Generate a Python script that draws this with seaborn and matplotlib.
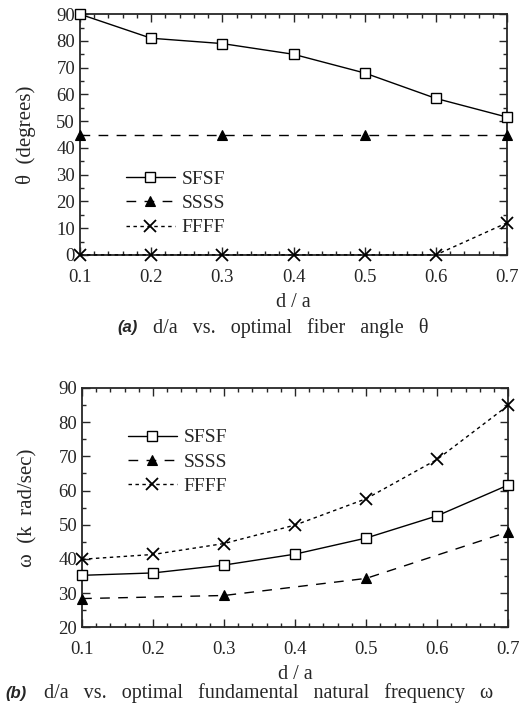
import pandas as pd
import seaborn as sns
import matplotlib.pyplot as plt
from matplotlib.ticker import MultipleLocator

# d/a values
da = [0.1, 0.2, 0.3, 0.4, 0.5, 0.6, 0.7]
da_ssss = [0.1, 0.3, 0.5, 0.7]

# (a) optimal fiber angle theta (degrees)
theta_sfsf = [90, 81, 79, 75, 68, 58.5, 51.5]
theta_ssss = [45, 45, 45, 45]
theta_ffff = [0, 0, 0, 0, 0, 0, 12]

# (b) optimal fundamental natural frequency omega (k rad/sec)
omega_sfsf = [35.2, 35.9, 38.2, 41.4, 46.1, 52.6, 61.6]
omega_ssss = [28.4, 29.3, 34.3, 47.9]
omega_ffff = [39.9, 41.3, 44.5, 49.9, 57.6, 69.1, 84.9]

series_names = ["SFSF", "SSSS", "FFFF"]

sns.set_style("ticks")
plt.rcParams["font.family"] = ["Liberation Serif", "DejaVu Serif"]

fig = plt.figure(figsize=(5.26, 7.08), dpi=100)
ax1 = fig.add_axes([0.152, 0.640, 0.812, 0.340])
ax2 = fig.add_axes([0.156, 0.114, 0.810, 0.338])

stil = {
    "SFSF": dict(linestyle="-", marker="s", markerfacecolor="white", markersize=7.5, markeredgewidth=1.0),
    "SSSS": dict(linestyle=(0, (7, 6)), marker="^", markerfacecolor="black", markersize=7, markeredgewidth=0.8),
    "FFFF": dict(linestyle=(0, (2.5, 2.5)), marker="x", markersize=8, markeredgewidth=1.3),
}


def ciz(ax, veriler, ylim, ylabel):
    for ad, (x, y) in zip(series_names, veriler):
        df = pd.DataFrame({"x": x, "y": y})
        sns.lineplot(data=df, x="x", y="y", ax=ax, color="black", linewidth=1.0,
                     markeredgecolor="black", label=ad, clip_on=False, zorder=3, **stil[ad])
    ax.set_xlim(0.1, 0.7)
    ax.set_ylim(*ylim)
    ax.xaxis.set_major_locator(MultipleLocator(0.1))
    ax.xaxis.set_minor_locator(MultipleLocator(0.02))
    ax.yaxis.set_major_locator(MultipleLocator(10))
    ax.yaxis.set_minor_locator(MultipleLocator(5))
    ax.tick_params(which="both", direction="in", top=True, right=True, labelsize=13.5, width=1.0)
    ax.tick_params(which="major", length=6)
    ax.tick_params(which="minor", length=3)
    ax.tick_params(axis="x", pad=10)
    for s in ax.spines.values():
        s.set_linewidth(1.3)
    ax.set_xlabel("d / a", fontsize=14.5, labelpad=5)
    ax.set_ylabel(ylabel, fontsize=15, labelpad=15)
    ax.set_xticklabels([f"{v:.1f}" for v in ax.get_xticks()])


ciz(ax1, [(da, theta_sfsf), (da_ssss, theta_ssss), (da, theta_ffff)], (0, 90), "θ  (degrees)")
ciz(ax2, [(da, omega_sfsf), (da_ssss, omega_ssss), (da, omega_ffff)], (20, 90), "ω  (k  rad/sec)")

ax1.legend(loc="upper left", bbox_to_anchor=(0.09, 0.385), frameon=False, fontsize=14,
           handlelength=2.5, handletextpad=0.35, labelspacing=0.35, borderaxespad=0)
ax2.legend(loc="upper left", bbox_to_anchor=(0.09, 0.862), frameon=False, fontsize=14,
           handlelength=2.5, handletextpad=0.35, labelspacing=0.35, borderaxespad=0)

# alt yazilar
fig.text(0.224, 0.537, "(a)", fontsize=12, fontweight="bold", fontstyle="italic",
         family=["Liberation Sans", "DejaVu Sans"], va="center")
fig.text(0.291, 0.537, "d/a   vs.   optimal   fiber   angle   θ", fontsize=14.5, va="center")
fig.text(0.01, 0.021, "(b)", fontsize=12, fontweight="bold", fontstyle="italic",
         family=["Liberation Sans", "DejaVu Sans"], va="center")
fig.text(0.084, 0.021, "d/a   vs.   optimal   fundamental   natural   frequency   ω", fontsize=14.5, va="center")

fig.savefig("out.png", dpi=100)
